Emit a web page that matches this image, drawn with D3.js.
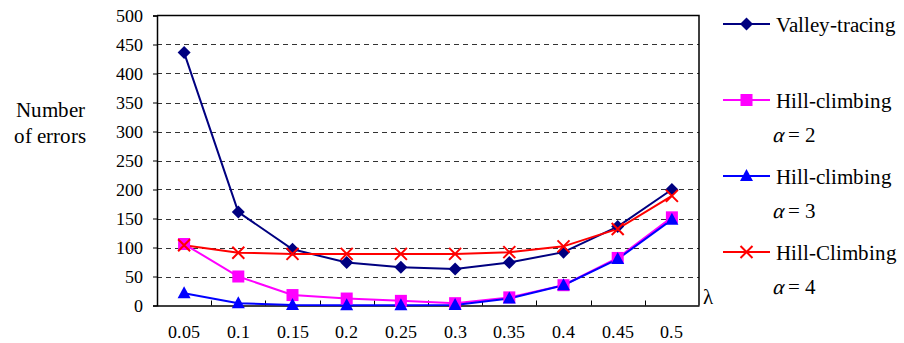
<!DOCTYPE html>
<html>
<head>
<meta charset="utf-8">
<script src="https://cdn.jsdelivr.net/npm/d3@7"></script>
<style>
  @font-face { font-family: "ChartSerif"; src: local("Liberation Serif"), local("LiberationSerif"), local("Times New Roman"); }
  body { margin: 0; font-family: "Liberation Serif", serif; }
  #chart text { font-family: "ChartSerif", "Liberation Serif", "Times New Roman", serif !important; }
</style>
</head>
<body>
<svg id="chart" width="904" height="343"></svg>
<script>
// chart data
var lambdas = ["0.05", "0.1", "0.15", "0.2", "0.25", "0.3", "0.35", "0.4", "0.45", "0.5"];
var yTicks = [0, 50, 100, 150, 200, 250, 300, 350, 400, 450, 500];
var valleyTracing = [436, 161, 97, 74, 66, 63, 74, 92, 136, 200];
var hillAlpha2 = [106, 50, 18, 12, 8, 4, 14, 35, 82, 152];
var hillAlpha3 = [21, 4, 1, 0.5, 0.5, 1, 12, 35, 80, 148];
var hillAlpha4 = [104, 91, 89, 89, 89, 89, 92, 102, 132, 189];

var serifFont = "Liberation Serif";

var seriesList = [
    {name: "Valley-tracing", sub: null, values: valleyTracing, color: "#000080", marker: "diamond"},
    {name: "Hill-climbing", sub: "2", values: hillAlpha2, color: "#ff00ff", marker: "square"},
    {name: "Hill-climbing", sub: "3", values: hillAlpha3, color: "#0000ff", marker: "triangle"},
    {name: "Hill-Climbing", sub: "4", values: hillAlpha4, color: "#ff0000", marker: "cross"}
];

var svg = d3.select("#chart");

var plotLeft = 157, plotRight = 699, plotTop = 15.5, plotBottom = 305.5;

var xScale = d3.scaleBand()
    .domain(lambdas)
    .range([plotLeft, plotRight]);

var yScale = d3.scaleLinear()
    .domain([0, 500])
    .range([plotBottom, plotTop]);

function drawMarker(g, type, color){
    if (type === "diamond") {
        g.append("path").attr("d", "M0,-6.5L6.5,0L0,6.5L-6.5,0Z").attr("fill", color);
    } else if (type === "square") {
        g.append("rect").attr("x", -6).attr("y", -6).attr("width", 12).attr("height", 12)
            .attr("fill", color);
    } else if (type === "triangle") {
        g.append("path").attr("d", "M0,-7L6.5,5L-6.5,5Z").attr("fill", color);
    } else {
        g.append("path").attr("d", "M-6,-6L6,6M-6,6L6,-6")
            .attr("stroke", color).attr("stroke-width", 2).attr("fill", "none");
    }
}

function addText(parent, x, y, size, str){
    return parent.append("text")
        .attr("x", x)
        .attr("y", y)
        .attr("font-family", serifFont)
        .attr("font-size", size)
        .text(str);
}

// dashed grid lines
svg.append("g")
    .selectAll("line")
    .data(yTicks.filter(function(d){ return d > 0 && d < 500; }))
    .enter()
    .append("line")
    .attr("x1", plotLeft)
    .attr("x2", plotRight)
    .attr("y1", function(d){ return Math.round(yScale(d)) + 0.5; })
    .attr("y2", function(d){ return Math.round(yScale(d)) + 0.5; })
    .attr("stroke", "#333")
    .attr("stroke-width", 1)
    .attr("stroke-dasharray", "5,4");

// frame top / right
svg.append("path")
    .attr("d", `M${plotLeft},${plotTop}H${plotRight}V${plotBottom}`)
    .attr("fill", "none")
    .attr("stroke", "#000")
    .attr("stroke-width", 1.5);

// y axis
var gy = svg.append("g")
    .attr("transform", `translate(${plotLeft},0)`)
    .call(d3.axisLeft(yScale).tickValues(yTicks).tickSize(4).tickPadding(10));
gy.attr("font-family", serifFont).attr("font-size", 18);
gy.selectAll("text").attr("font-family", serifFont).attr("font-size", 18);
gy.select(".domain").attr("stroke", "#000").attr("stroke-width", 1.5);

// x axis, ticks drawn inside between categories
var gx = svg.append("g")
    .attr("transform", `translate(0,${plotBottom})`)
    .call(d3.axisBottom(xScale).tickSize(0).tickPadding(20));
gx.attr("font-family", serifFont).attr("font-size", 18);
gx.selectAll("text").attr("font-family", serifFont).attr("font-size", 18);
gx.select(".domain").attr("stroke", "#000").attr("stroke-width", 1.5);
svg.append("g")
    .selectAll("line")
    .data(lambdas.slice(1))
    .enter()
    .append("line")
    .attr("x1", function(d){ return Math.round(xScale(d)) + 0.5; })
    .attr("x2", function(d){ return Math.round(xScale(d)) + 0.5; })
    .attr("y1", plotBottom)
    .attr("y2", plotBottom - 5)
    .attr("stroke", "#000");

// series lines and markers
var line = d3.line()
    .x(function(d, i){ return xScale(lambdas[i]) + xScale.bandwidth() / 2; })
    .y(function(d){ return yScale(d); });

seriesList.forEach(function(s){
    svg.append("path")
        .datum(s.values)
        .attr("d", line)
        .attr("fill", "none")
        .attr("stroke", s.color)
        .attr("stroke-width", 2);
});
seriesList.forEach(function(s){
    svg.append("g")
        .selectAll("g")
        .data(s.values)
        .enter()
        .append("g")
        .attr("transform", function(d, i){
            return `translate(${xScale(lambdas[i]) + xScale.bandwidth() / 2},${yScale(d)})`;
        })
        .each(function(){ drawMarker(d3.select(this), s.marker, s.color); });
});

// y axis title
addText(svg, 50, 117, 21, "Number").attr("text-anchor", "middle");
addText(svg, 50, 143, 21, "of errors").attr("text-anchor", "middle");

// lambda label
addText(svg, 703, 304, 21, "λ");

// legend
var legendY = [24, 100, 176, 252];
seriesList.forEach(function(s, i){
    let g = svg.append("g").attr("transform", `translate(0,${legendY[i]})`);
    g.append("line").attr("x1", 723).attr("x2", 770).attr("y1", 0).attr("y2", 0)
        .attr("stroke", s.color).attr("stroke-width", 2);
    drawMarker(g.append("g").attr("transform", "translate(746.5,0)"), s.marker, s.color);
    addText(g, 776, 7.5, 21, s.name);
    if (s.sub) {
        let t = addText(g, 772, 42, 21, null);
        t.append("tspan").attr("font-style", "italic").text("α");
        t.append("tspan").text(" = " + s.sub);
    }
});
</script>
</body>
</html>
